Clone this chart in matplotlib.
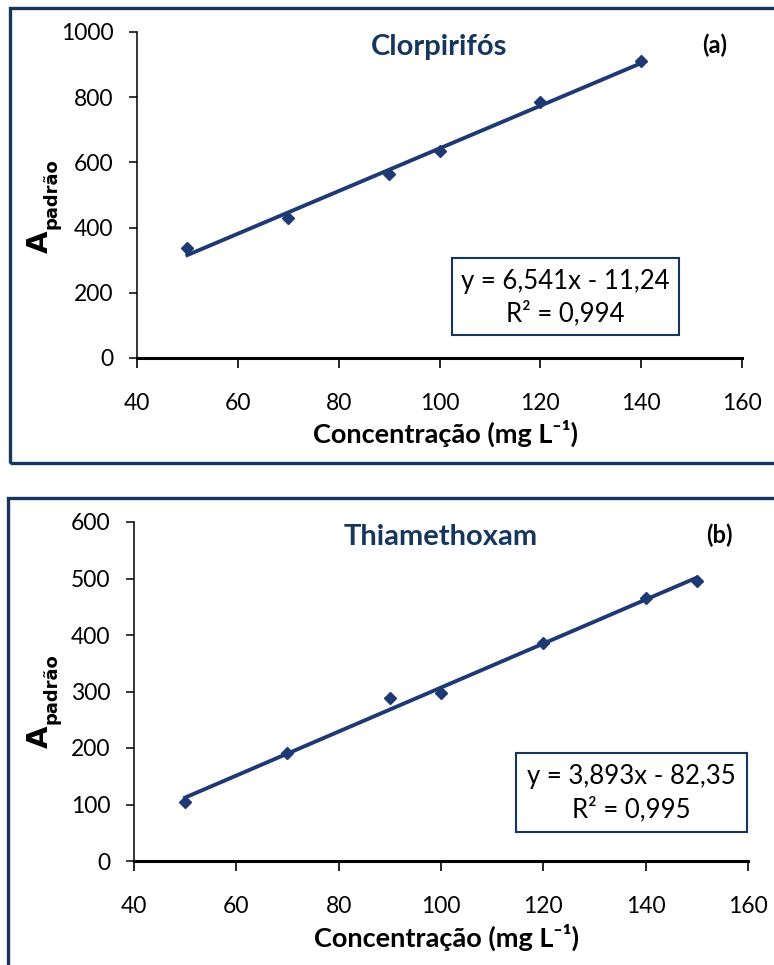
import numpy as np
import matplotlib.pyplot as plt
from matplotlib.patches import Rectangle

# data
conc_a = [50, 70, 90, 100, 120, 140]
area_a = [337, 430, 565, 635, 785, 912]
slope_a, icpt_a = 6.541, -11.24
eq_a = ['y = 6,541x - 11,24', 'R² = 0,994']

conc_b = [50, 70, 90, 100, 120, 140, 150]
area_b = [105, 192, 288, 297, 385, 466, 496]
slope_b, icpt_b = 3.893, -82.35
eq_b = ['y = 3,893x - 82,35', 'R² = 0,995']

navy = '#1F3A73'
dark = '#17365D'
font = 'Lato'

W, H = 774, 965
fig = plt.figure(figsize=(W / 100, H / 100), dpi=100)

def fx(px):
    return px / W

def fy(py):
    return 1 - py / H

# frames around each panel
fig.patches.append(Rectangle((fx(10), fy(463)), fx(780) - fx(10), fy(8) - fy(463),
                             transform=fig.transFigure, fill=False, ec=dark, lw=2.4))
fig.patches.append(Rectangle((fx(8), fy(990)), fx(780) - fx(8), fy(498) - fy(990),
                             transform=fig.transFigure, fill=False, ec=dark, lw=2.4))


def panel(box, x, y, slope, icpt, ymax, ystep, title, tag, eq, eqbox, ylab_y, xlab_y):
    l, t, r, b = box
    ax = fig.add_axes([fx(l), fy(b), fx(r) - fx(l), fy(t) - fy(b)])
    xs = np.array([x[0], x[-1]])
    ax.plot(xs, slope * xs + icpt, color=navy, lw=2.8, zorder=2)
    ax.plot(x, y, 'D', color=navy, ms=6.5, zorder=3)
    ax.set_xlim(40, 160)
    ax.set_ylim(0, ymax)
    ax.set_xticks(range(40, 161, 20))
    ax.set_yticks(range(0, ymax + 1, ystep))
    for s in ['top', 'right']:
        ax.spines[s].set_visible(False)
    ax.spines['bottom'].set_linewidth(2.2)
    ax.spines['left'].set_linewidth(1.1)
    ax.tick_params(axis='x', direction='out', length=7, width=1.2, pad=18, labelsize=16.5)
    ax.tick_params(axis='y', direction='out', length=6, width=1.1, pad=11, labelsize=16.5)
    for lab in ax.get_xticklabels() + ax.get_yticklabels():
        lab.set_fontfamily(font)
    ax.text(0.5, 0.955, title, transform=ax.transAxes, ha='center', va='center',
            fontsize=21, fontweight='bold', color=dark, family=font)
    ax.text(0.975, 0.96, tag, transform=ax.transAxes, ha='right', va='center',
            fontsize=17, fontweight='bold', color='black', family=font)
    # equation box
    el, et, er, eb = eqbox
    fig.patches.append(Rectangle((fx(el), fy(eb)), fx(er) - fx(el), fy(et) - fy(eb),
                                 transform=fig.transFigure, fill=False, ec=dark, lw=1.5))
    cx = fx((el + er) / 2)
    fig.text(cx, fy(et + (eb - et) * 0.3), eq[0], ha='center', va='center',
             fontsize=18.5, family=font)
    fig.text(cx, fy(et + (eb - et) * 0.72), eq[1], ha='center', va='center',
             fontsize=18.5, family=font)
    # y label A padrao
    fig.text(fx(40), fy(ylab_y), 'A', rotation=90, ha='center', va='center',
             fontsize=21, fontweight='bold', family='DejaVu Sans')
    fig.text(fx(52), fy(ylab_y - 48), 'padrão', rotation=90, ha='center', va='center',
             fontsize=13, fontweight='bold', family='DejaVu Sans')
    fig.text(fx((l + r) / 2 + 6), fy(xlab_y), 'Concentração (mg L⁻¹)',
             ha='center', va='center', fontsize=19.5, fontweight='bold',
             family=[font, 'DejaVu Sans'])
    return ax


panel((137, 32, 742, 358), conc_a, area_a, slope_a, icpt_a, 1000, 200,
      'Clorpirifós', '(a)', eq_a, (452, 258, 679, 335), 242, 433)
panel((134, 522, 748, 861), conc_b, area_b, slope_b, icpt_b, 600, 100,
      'Thiamethoxam', '(b)', eq_b, (516, 753, 747, 832), 737, 937)

fig.savefig('out.png', dpi=100)
